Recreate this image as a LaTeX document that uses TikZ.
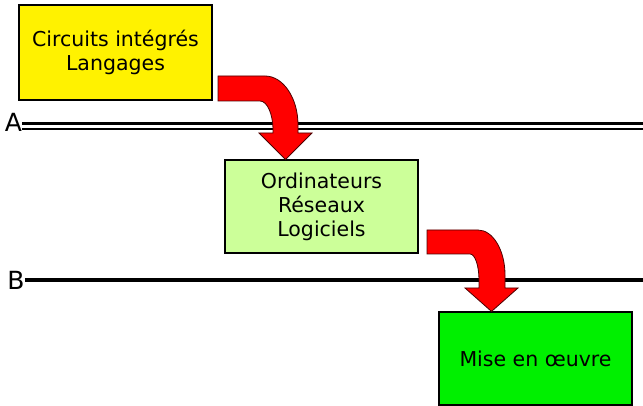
\documentclass[tikz,border=0pt]{standalone}
\usepackage{fontspec}
\setmainfont{DejaVu Sans}
\begin{document}
\begin{tikzpicture}[x=1pt,y=-1pt,
  box/.style={draw=black,line width=1.1pt,minimum width=193pt,inner sep=0pt,
    align=center,font=\fontsize{20.5}{24}\selectfont},
  blockarrow/.style={fill=red,draw=black!70!red,line width=0.8pt,line join=miter},
  level/.style={font=\fontsize{25}{25}\selectfont,inner sep=0pt},
  rule/.style={draw=black}]
\useasboundingbox (0,0) rectangle (643,406);

% the three stages
\node[box,fill=yellow,minimum height=95pt] (c1) at (115.5,52.5)
  {Circuits intégrés\\Langages};
\node[box,fill={rgb,255:red,204;green,255;blue,153},minimum height=93pt] (c2) at (321.5,206.5)
  {Ordinateurs\\Réseaux\\Logiciels};
\node[box,fill={rgb,255:red,0;green,240;blue,0},minimum height=93pt] (c3) at (535.5,358.5)
  {Mise en œuvre};

% level A: double rule, heavy above and light below
\node[level] (la) at (13.5,122.5) {A};
\coordinate (ea) at (643,123);
\draw[rule,line width=3.4pt] (la.east |- 0,123.7) -- (ea |- 0,123.7);
\draw[rule,line width=1.8pt] (la.east |- 0,129.2) -- (ea |- 0,129.2);

% level B: single heavy rule
\node[level] (lb) at (16,280) {B};
\coordinate (eb) at (643,280);
\draw[rule,line width=4.6pt] (lb.east) -- (eb);

% curved block arrow from stage 1 down to stage 2
\draw[blockarrow] (218,76) -- (265,76) .. controls (283.2,76) and (298,98) .. (298,125)
  -- (298,133) -- (312,133) -- (c2.north -| 285.5,0) -- (259,133) -- (273,133)
  -- (273,130) .. controls (273,114) and (267.2,101) .. (260,101) -- (218,101) -- cycle;

% curved block arrow from stage 2 down to stage 3
\draw[blockarrow] (427,230) -- (478,230) .. controls (492.9,230) and (505,250.1) .. (505,275)
  -- (505,288) -- (518,288) -- (c3.north -| 491.5,0) -- (465,288) -- (479,288)
  -- (479,280) .. controls (479,265.6) and (475,254) .. (470,254) -- (427,254) -- cycle;
\end{tikzpicture}
\end{document}
